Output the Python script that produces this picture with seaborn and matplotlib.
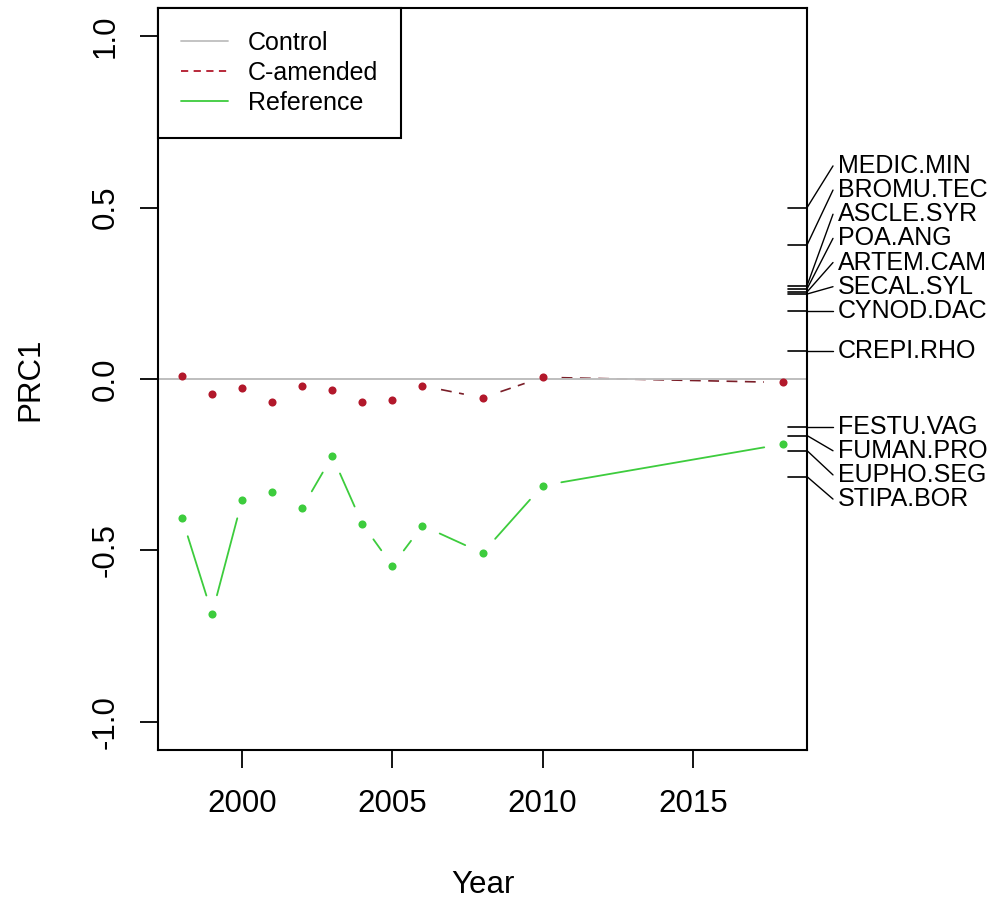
import numpy as np
import seaborn as sns
import matplotlib.pyplot as plt
from matplotlib.lines import Line2D

# --- data ------------------------------------------------------------------
years = [1998, 1999, 2000, 2001, 2002, 2003, 2004, 2005, 2006, 2008, 2010, 2018]
c_amended = [0.010, -0.044, -0.026, -0.066, -0.020, -0.032, -0.066, -0.061,
             -0.020, -0.055, 0.005, -0.010]
reference = [-0.406, -0.685, -0.353, -0.331, -0.376, -0.225, -0.423, -0.545,
             -0.428, -0.508, -0.311, -0.190]

species = ["MEDIC.MIN", "BROMU.TEC", "ASCLE.SYR", "POA.ANG", "ARTEM.CAM",
           "SECAL.SYL", "CYNOD.DAC", "CREPI.RHO", "FESTU.VAG", "FUMAN.PRO",
           "EUPHO.SEG", "STIPA.BOR"]
species_scores = [0.500, 0.391, 0.272, 0.263, 0.254, 0.248, 0.199, 0.083,
                  -0.139, -0.165, -0.209, -0.285]

RED = "#B2182B"
GREEN = "#3DCC3D"
GRAY = "#BEBEBE"

sns.set_style("ticks")
plt.rcParams["font.family"] = ["Liberation Sans", "DejaVu Sans"]
plt.rcParams["text.color"] = "black"
plt.rcParams["axes.labelcolor"] = "black"

fig = plt.figure(figsize=(10.01, 9.06), dpi=100)
ax = fig.add_axes([158 / 1001, 1 - 750 / 906, 649 / 1001, 742 / 906])
ax.set_xlim(1997.2, 2018.8)
ax.set_ylim(-1.083, 1.083)


def gapped(xs, ys, gap_px=19):
    # R type="b": segments stop short of the points
    pts = ax.transData.transform(np.column_stack([xs, ys]))
    inv = ax.transData.inverted()
    out = []
    for p0, p1 in zip(pts[:-1], pts[1:]):
        d = p1 - p0
        L = np.hypot(*d)
        if L <= 2 * gap_px:
            continue
        u = d / L
        a = inv.transform(p0 + u * gap_px)
        b = inv.transform(p1 - u * gap_px)
        out.append(((a[0], b[0]), (a[1], b[1])))
    return out


for xx, yy in gapped(years, c_amended):
    ax.plot(xx, yy, color="#7A1E28", lw=1.2, dashes=(6.5, 4.5), zorder=2)
for xx, yy in gapped(years, reference):
    ax.plot(xx, yy, color=GREEN, lw=1.3, zorder=2)

# control = the zero line, drawn over the treatment lines
ax.axhline(0, color=GRAY, lw=1.4, zorder=2.5)

sns.scatterplot(x=years, y=c_amended, color=RED, s=34, linewidth=0, ax=ax, zorder=3)
sns.scatterplot(x=years, y=reference, color=GREEN, s=34, linewidth=0, ax=ax, zorder=3)

# axes styling, R look
ax.set_xticks([2000, 2005, 2010, 2015])
ax.set_yticks([-1.0, -0.5, 0.0, 0.5, 1.0])
ax.set_yticklabels(["-1.0", "-0.5", "0.0", "0.5", "1.0"])
ax.tick_params(axis="both", direction="out", length=13, width=1.3,
               labelsize=22.5, colors="black")
ax.tick_params(axis="x", pad=15)
ax.tick_params(axis="y", pad=14, labelrotation=90)
for lab in ax.get_yticklabels():
    lab.set_va("center")
for sp in ax.spines.values():
    sp.set_visible(True)
    sp.set_linewidth(1.5)
    sp.set_color("black")

ax.set_xlabel("Year", fontsize=22.5)
ax.set_ylabel("PRC1", fontsize=22.5)
ax.xaxis.set_label_coords(0.5, -(885 - 750) / 742)
ax.xaxis.label.set_va("center")
ax.yaxis.set_label_coords(-(158 - 30) / 649, 0.5)
ax.yaxis.label.set_va("center")


# species axis on the right (linestack style)
def stack_labels(scores, step):
    pos = np.array(scores, float)
    order = list(np.argsort(pos))
    up = [i for i in order if pos[i] >= 0]
    for a, b in zip(up[:-1], up[1:]):
        pos[b] = max(pos[b], pos[a] + step)
    down = [i for i in order[::-1] if pos[i] < 0]
    for a, b in zip(down[:-1], down[1:]):
        pos[b] = min(pos[b], pos[a] - step)
    return pos


lab_pos = stack_labels(species_scores, 0.0705)
tr = ax.get_yaxis_transform()
w = 649.0
for name, s, p in zip(species, species_scores, lab_pos):
    ax.plot([1 - 19 / w, 1], [s, s], transform=tr, clip_on=False,
            color="black", lw=1.2)
    ax.plot([1, 1 + 26 / w], [s, p], transform=tr, clip_on=False,
            color="black", lw=1.0)
    ax.text(1 + 31 / w, p, name, transform=tr, ha="left", va="center",
            fontsize=18, color="black")

handles = [Line2D([], [], color=GRAY, lw=1.3),
           Line2D([], [], color=RED, lw=1.3, dashes=(4, 3)),
           Line2D([], [], color=GREEN, lw=1.3)]
leg = ax.legend(handles, ["Control", "C-amended", "Reference"],
                loc="upper left", bbox_to_anchor=(0, 1), borderaxespad=0,
                frameon=True, fancybox=False, edgecolor="black",
                framealpha=1, fontsize=18, handlelength=1.9,
                handletextpad=0.8, borderpad=0.9, labelspacing=0.25,
                labelcolor="black")
leg.get_frame().set_linewidth(1.5)

fig.savefig("out.png", dpi=100, facecolor="white")
